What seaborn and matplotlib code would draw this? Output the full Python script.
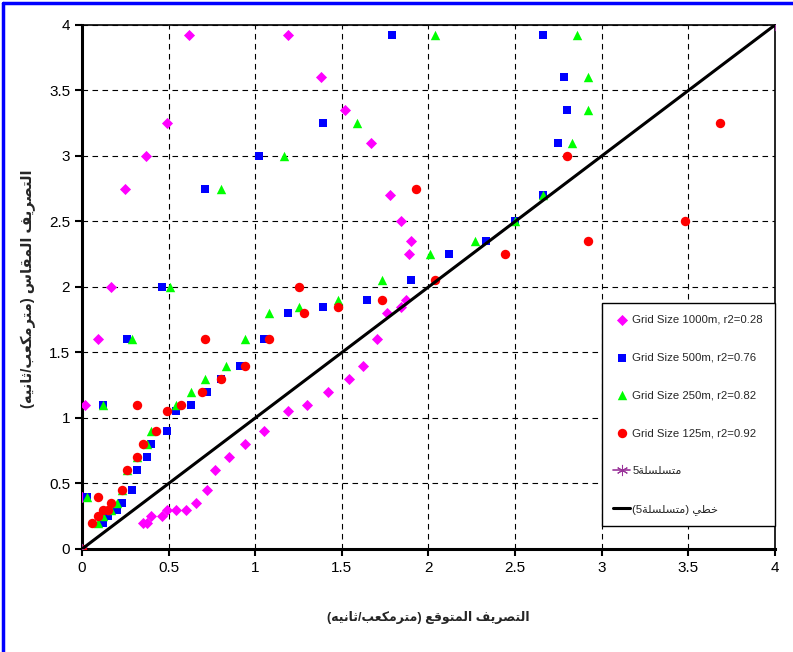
import re
import numpy as np
import matplotlib
matplotlib.use("Agg")
import matplotlib.pyplot as plt
from matplotlib.lines import Line2D
import seaborn as sns

# ---------------------------------------------------------------------------------
# Datos
# ---------------------------------------------------------------------------------
g1000_x = [0.0, 0.02, 0.09, 0.17, 0.25, 0.37, 0.49, 0.62, 1.19, 1.38, 1.52, 1.67, 1.78,
           1.84, 1.90, 1.89, 1.87, 1.84, 1.76, 1.70, 1.62, 1.54, 1.42, 1.30, 1.19, 1.05,
           0.94, 0.85, 0.77, 0.72, 0.66, 0.60, 0.54, 0.49, 0.46, 0.40, 0.375, 0.35]
g1000_y = [0.4, 1.1, 1.6, 2.0, 2.75, 3.0, 3.25, 3.92, 3.92, 3.6, 3.35, 3.1, 2.7,
           2.5, 2.35, 2.25, 1.9, 1.85, 1.8, 1.6, 1.4, 1.3, 1.2, 1.1, 1.05, 0.9,
           0.8, 0.7, 0.6, 0.45, 0.35, 0.3, 0.3, 0.3, 0.25, 0.25, 0.2, 0.2]

g500_x = [0.0, 0.03, 0.12, 0.15, 0.20, 0.23, 0.29, 0.32, 0.375, 0.40, 0.49, 0.54, 0.63,
          0.72, 0.80, 0.91, 1.05, 1.19, 1.39, 1.645, 1.90, 2.12, 2.33, 2.50, 2.66, 2.75,
          2.80, 2.78, 2.66, 1.79, 1.39, 1.02, 0.71, 0.46, 0.26, 0.12]
g500_y = [0.0, 0.4, 0.2, 0.25, 0.3, 0.35, 0.45, 0.6, 0.7, 0.8, 0.9, 1.05, 1.1,
          1.2, 1.3, 1.4, 1.6, 1.8, 1.85, 1.9, 2.05, 2.25, 2.35, 2.5, 2.7, 3.1,
          3.35, 3.6, 3.92, 3.92, 3.25, 3.0, 2.75, 2.0, 1.6, 1.1]

g250_x = [0.0, 0.03, 0.09, 0.12, 0.17, 0.20, 0.23, 0.26, 0.32, 0.375, 0.40, 0.54, 0.63,
          0.71, 0.83, 0.94, 1.08, 1.25, 1.48, 1.73, 2.01, 2.27, 2.50, 2.66, 2.83, 2.92,
          2.92, 2.86, 2.04, 1.59, 1.165, 0.80, 0.51, 0.29, 0.12]
g250_y = [0.0, 0.4, 0.2, 0.25, 0.3, 0.35, 0.45, 0.6, 0.7, 0.8, 0.9, 1.1, 1.2,
          1.3, 1.4, 1.6, 1.8, 1.85, 1.9, 2.05, 2.25, 2.35, 2.5, 2.7, 3.1, 3.35,
          3.6, 3.92, 3.92, 3.25, 3.0, 2.75, 2.0, 1.6, 1.1]

g125_x = [0.0, 0.06, 0.09, 0.12, 0.15, 0.17, 0.23, 0.26, 0.32, 0.35, 0.43, 0.49, 0.57,
          0.69, 0.80, 0.94, 1.08, 1.28, 1.48, 1.73, 2.04, 2.44, 2.92, 3.48, 3.68, 2.80,
          1.93, 1.25, 0.71, 0.32, 0.09]
g125_y = [0.0, 0.2, 0.25, 0.3, 0.3, 0.35, 0.45, 0.6, 0.7, 0.8, 0.9, 1.05, 1.1,
          1.2, 1.3, 1.4, 1.6, 1.8, 1.85, 1.9, 2.05, 2.25, 2.35, 2.5, 3.25, 3.0,
          2.75, 2.0, 1.6, 1.1, 0.4]

s5_x = [0.0, 4.0]
s5_y = [0.0, 4.0]

labels = ["Grid Size 1000m, r2=0.28", "Grid Size 500m, r2=0.76",
          "Grid Size 250m, r2=0.82", "Grid Size 125m, r2=0.92"]
ticks = [0, 0.5, 1, 1.5, 2, 2.5, 3, 3.5, 4]
tick_labels = ["0", "0.5", "1", "1.5", "2", "2.5", "3", "3.5", "4"]

xlabel = "التصريف المتوقع (مترمكعب/ثانيه)"
ylabel = "التصريف المقاس (مترمكعب/ثانيه)"
s5_label = "متسلسلة5"
trend_label = "خطي (متسلسلة5)"

# ---------------------------------------------------------------------------------
# matplotlib no da forma al arabe: formas de presentacion + orden visual
# ---------------------------------------------------------------------------------
BASES = {'ا': 0xFE8D, 'ب': 0xFE8F, 'ة': 0xFE93, 'ت': 0xFE95, 'ث': 0xFE99, 'خ': 0xFEA5,
         'ر': 0xFEAD, 'س': 0xFEB1, 'ص': 0xFEB9, 'ط': 0xFEC1, 'ع': 0xFEC9, 'ف': 0xFED1,
         'ق': 0xFED5, 'ك': 0xFED9, 'ل': 0xFEDD, 'م': 0xFEE1, 'ن': 0xFEE5, 'ه': 0xFEE9,
         'و': 0xFEED, 'ي': 0xFEF1}
DUAL = set("بتثخسصطعفقكلمنهي")


def shape(text):
    out = []
    for i, ch in enumerate(text):
        if ch not in BASES:
            out.append(ch)
            continue
        prev = text[i - 1] if i > 0 else ""
        nxt = text[i + 1] if i + 1 < len(text) else ""
        jp = prev in DUAL
        jn = ch in DUAL and nxt in BASES
        code = BASES[ch] + (3 if jp and jn else 2 if jn else 1 if jp else 0)
        out.append(chr(code))
    runs = re.findall(r"\d+|\D", "".join(out))
    mirror = {"(": ")", ")": "("}
    return "".join(mirror.get(r, r) for r in reversed(runs))


# ---------------------------------------------------------------------------------
# Grafico
# ---------------------------------------------------------------------------------
sns.set_style("white")
plt.rcParams["font.family"] = ["Liberation Sans", "DejaVu Sans"]

fig = plt.figure(figsize=(7.93, 6.52), dpi=100)
ax = fig.add_axes([0.1034, 0.158, 0.8739, 0.8037])

series = [
    (g1000_x, g1000_y, "#FF00FF", "D", 32),
    (g500_x, g500_y, "#0000FF", "s", 38),
    (g250_x, g250_y, "#00FF00", "^", 46),
    (g125_x, g125_y, "#FF0000", "o", 46),
]
for (xs, ys, col, mk, sz), lab in zip(series, labels):
    sns.scatterplot(x=xs, y=ys, color=col, marker=mk, s=sz, linewidth=0,
                    ax=ax, label=lab, zorder=3)

sns.lineplot(x=s5_x, y=s5_y, color="#993399", linewidth=1.2, marker=(6, 2, 0),
             markersize=8, markeredgecolor="#993399", ax=ax, label=shape(s5_label),
             zorder=4)

coef = np.polyfit(s5_x, s5_y, 1)
trend_x = np.array([min(s5_x), max(s5_x)])
sns.lineplot(x=trend_x, y=np.polyval(coef, trend_x), color="black", linewidth=2.2,
             ax=ax, label=shape(trend_label), zorder=5)

ax.set_xlim(0, 4)
ax.set_ylim(0, 4)
ax.set_xticks(ticks)
ax.set_xticklabels(tick_labels)
ax.set_yticks(ticks)
ax.set_yticklabels(tick_labels)
ax.tick_params(direction="out", length=5, width=1.5, labelsize=11, colors="black",
               left=True, bottom=True)
ax.grid(True, color="black", linestyle=(0, (5, 4)), linewidth=0.8)

for side in ["left", "bottom"]:
    ax.spines[side].set_linewidth(2.2)
    ax.spines[side].set_color("black")
for side in ["top", "right"]:
    ax.spines[side].set_linewidth(1.2)
    ax.spines[side].set_color("black")

ax.set_xlabel(shape(xlabel), fontsize=9, fontweight="bold")
ax.set_ylabel(shape(ylabel), fontsize=10.5, fontweight="bold")
ax.xaxis.set_label_coords(0.5, -0.118)
ax.yaxis.set_label_coords(-0.066, 0.496)

leg = ax.legend(loc="upper left", bbox_to_anchor=(0.750, 0.469), borderaxespad=0,
                fontsize=8.2, labelspacing=2.45, handlelength=1.5, handletextpad=0.2,
                borderpad=1.0, fancybox=False, framealpha=1, edgecolor="black")
leg.get_frame().set_linewidth(1.0)

# marco azul de la figura
fig.add_artist(Line2D([0.004, 0.004], [0.0, 0.996], color="#0000FF", linewidth=2.5))
fig.add_artist(Line2D([0.004, 1.0], [0.996, 0.996], color="#0000FF", linewidth=2.5))

fig.savefig("out.png", dpi=100)
